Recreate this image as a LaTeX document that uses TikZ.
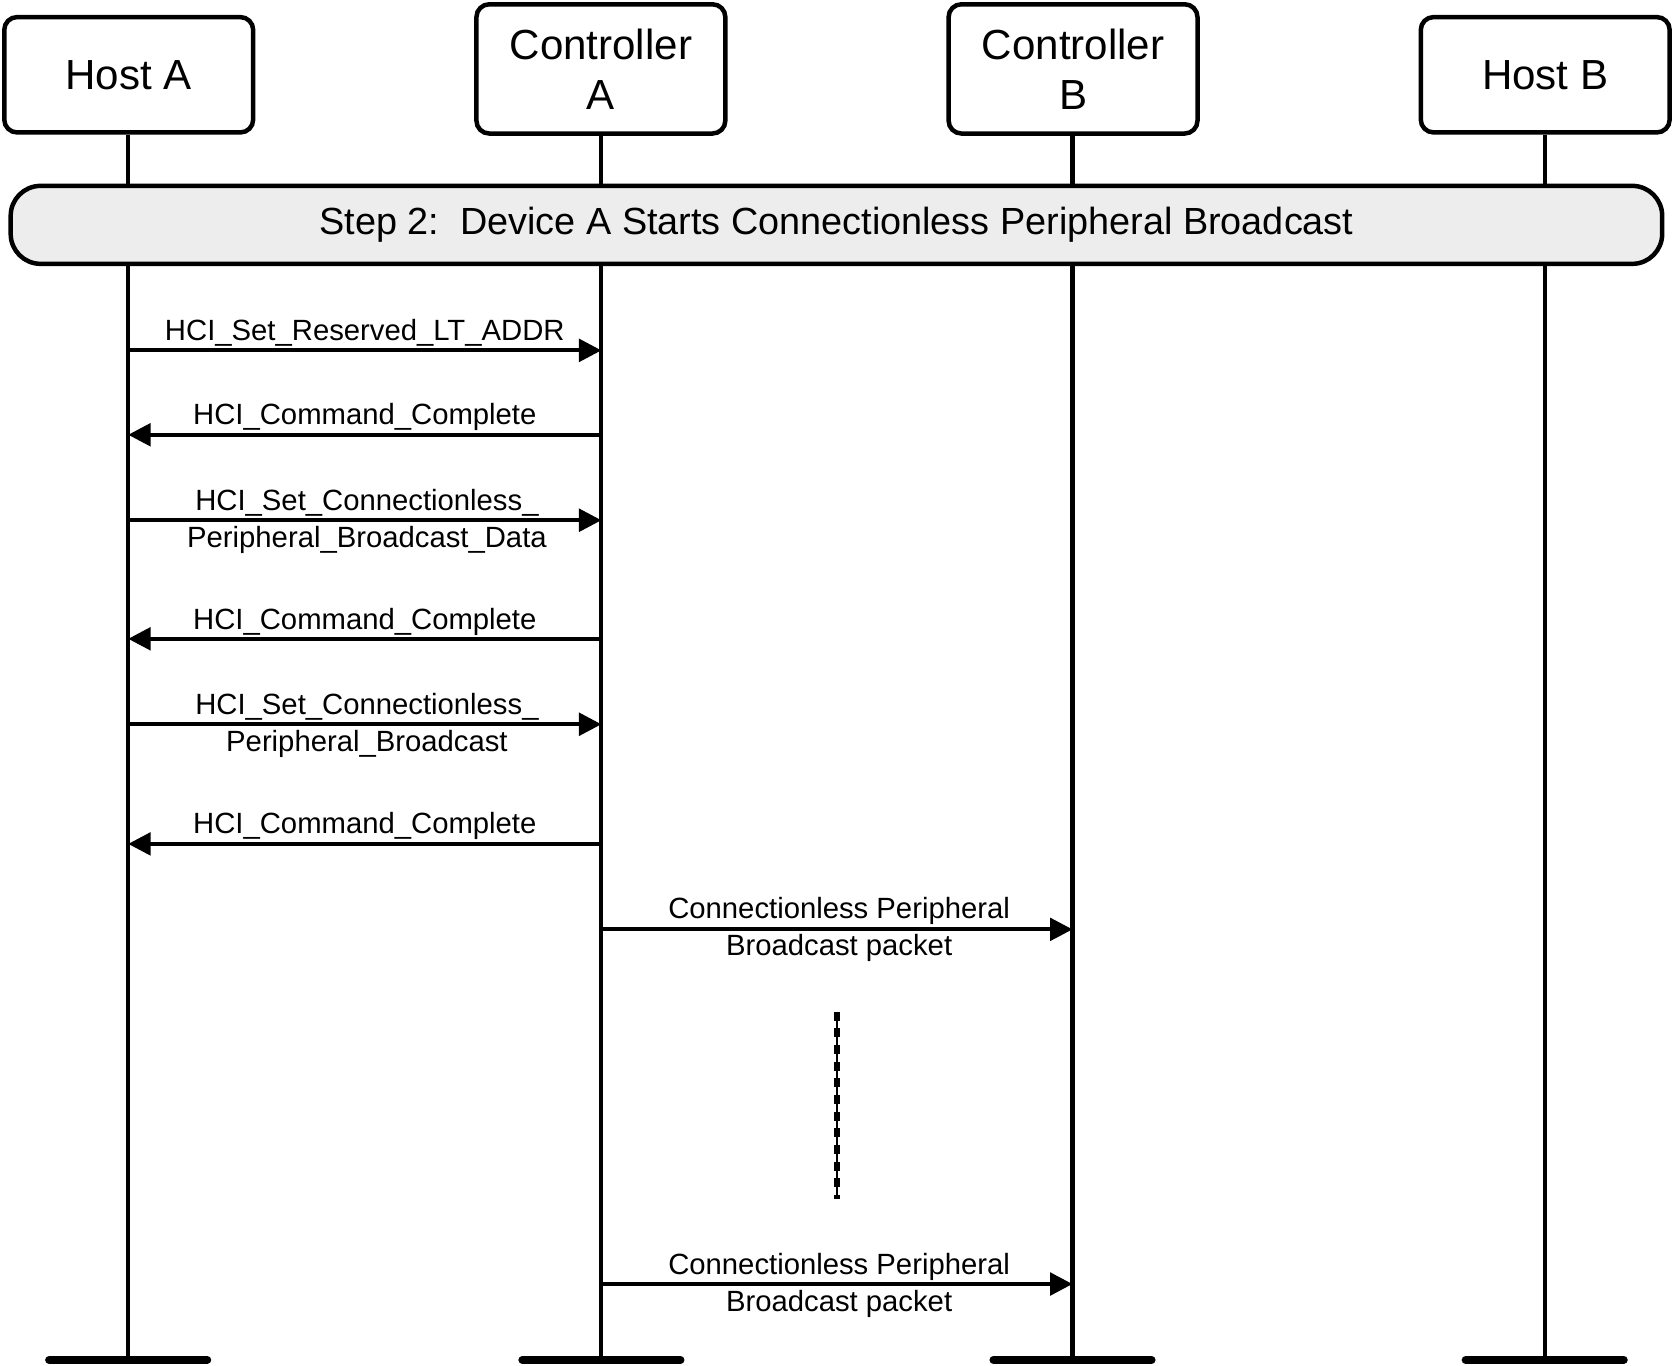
\documentclass[tikz,border=0pt]{standalone}
\usepackage{fontspec}
\setmainfont{Liberation Sans}
\usetikzlibrary{arrows.meta}

\tikzset{every picture/.style={line width=0.75pt}}
\tikzset{
  entity/.style={draw, fill=white, line width=2.1pt, rounded corners=6pt, minimum width=116.5pt, align=center, inner sep=0pt, font=\fontsize{19.7}{23.5}\selectfont},
  lifeline/.style={line width=1.9pt},
  lifeend/.style={line width=3.75pt, line cap=round},
  stepband/.style={draw, line width=2.1pt, rounded corners=14pt, fill={rgb,255:red,237;green,237;blue,237}, minimum width=773pt, minimum height=36.5pt, inner sep=0pt, font=\fontsize{17.7}{21}\selectfont},
  msg/.style={line width=1.9pt, -{Triangle[length=10.5pt,width=10.5pt]}},
  msgtext/.style={anchor=base, align=center, inner sep=0pt, font=\fontsize{13.7}{17.3}\selectfont},
}

\begin{document}
\begin{tikzpicture}[x=0.5pt,y=0.5pt,yscale=-1,xscale=1]
\useasboundingbox (0,0) rectangle (1568,1278);

%Lifeline ends
\coordinate (hostAend) at (120,1273);
\coordinate (ctrlAend) at (563,1273);
\coordinate (ctrlBend) at (1004,1273);
\coordinate (hostBend) at (1446,1273);

%Shape: Rounded Rect [entities]
\node[entity, minimum height=54pt] (hostA) at (120.5,70) {Host A};
\node[entity, minimum height=60.5pt] (ctrlA) at (562.5,64.5) {Controller\\A};
\node[entity, minimum height=60.5pt] (ctrlB) at (1004.5,64.5) {Controller\\B};
\node[entity, minimum height=54pt] (hostB) at (1446.5,70) {Host B};

%Straight Lines [lifelines]
\draw[lifeline] (hostAend |- hostA.south) -- (hostAend);
\draw[lifeline] (ctrlAend |- ctrlA.south) -- (ctrlAend);
\draw[lifeline] (ctrlBend |- ctrlB.south) -- (ctrlBend);
\draw[lifeline] (hostBend |- hostB.south) -- (hostBend);
%Straight Lines [bottom bars]
\draw[lifeend] (hostAend) ++(-74,0) -- ++(148,0);
\draw[lifeend] (ctrlAend) ++(-74,0) -- ++(148,0);
\draw[lifeend] (ctrlBend) ++(-74,0) -- ++(148,0);
\draw[lifeend] (hostBend) ++(-74,0) -- ++(148,0);

%Shape: Rounded Rect [step]
\node[stepband] (step) at (783,210.5) {Step 2:\ \ Device A Starts Connectionless Peripheral Broadcast};

%Message rows
\coordinate (m1) at (0,328);
\coordinate (m2) at (0,407);
\coordinate (m3) at (0,487);
\coordinate (m4) at (0,598);
\coordinate (m5) at (0,678);
\coordinate (m6) at (0,790);
\coordinate (m7) at (0,870);
\coordinate (m8) at (0,1202);

%Straight Lines [messages]
\draw[msg] (hostAend |- m1) -- (ctrlAend |- m1);
\draw[msg] (ctrlAend |- m2) -- (hostAend |- m2);
\draw[msg] (hostAend |- m3) -- (ctrlAend |- m3);
\draw[msg] (ctrlAend |- m4) -- (hostAend |- m4);
\draw[msg] (hostAend |- m5) -- (ctrlAend |- m5);
\draw[msg] (ctrlAend |- m6) -- (hostAend |- m6);
\draw[msg] (ctrlAend |- m7) -- (ctrlBend |- m7);
\draw[msg] (ctrlAend |- m8) -- (ctrlBend |- m8);

% Text Node
\node[msgtext] (t1) at (341.5,318.7) {HCI\_Set\_Reserved\_LT\_ADDR};
% Text Node
\node[msgtext] (t2) at (341.5,397.7) {HCI\_Command\_Complete};
% Text Node
\node[msgtext] (t3) at (343.5,512.7) {HCI\_Set\_Connectionless\_\\Peripheral\_Broadcast\_Data};
% Text Node
\node[msgtext] (t4) at (341.5,589.7) {HCI\_Command\_Complete};
% Text Node
\node[msgtext] (t5) at (343.5,703.7) {HCI\_Set\_Connectionless\_\\Peripheral\_Broadcast};
% Text Node
\node[msgtext] (t6) at (341.5,780.7) {HCI\_Command\_Complete};
% Text Node
\node[msgtext] (t7) at (785.5,894.4) {Connectionless Peripheral\\Broadcast packet};
% Text Node
\node[msgtext] (t8) at (785.5,1227.4) {Connectionless Peripheral\\Broadcast packet};

%Straight Lines [gap]
\coordinate (gapTop) at (783.5,947);
\coordinate (gapBot) at (783.5,1122);
\draw[line width=0.7pt] (gapTop) -- (gapBot);
\draw[line width=2.5pt, dash pattern=on 4.2pt off 3.6pt] (gapTop) -- (gapBot);

\end{tikzpicture}
\end{document}
